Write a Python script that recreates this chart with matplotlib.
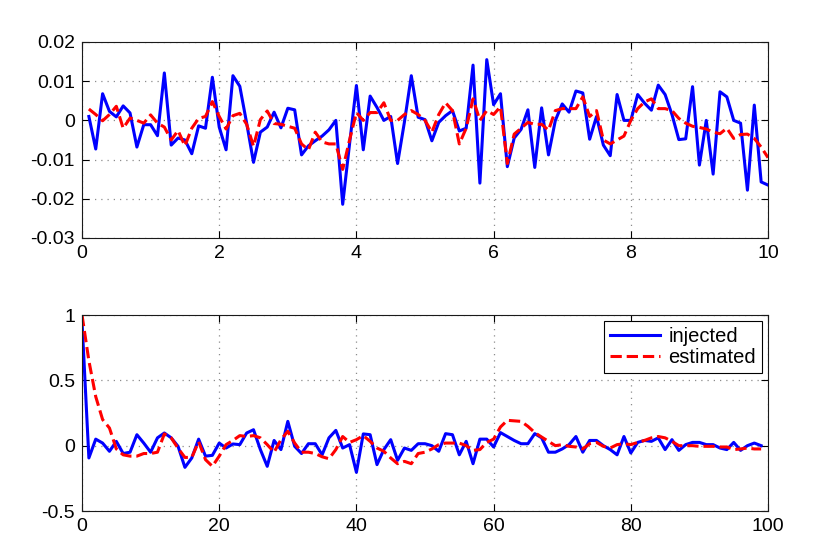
import numpy as np
import matplotlib
matplotlib.use("Agg")
import matplotlib.pyplot as plt

plt.rcParams['font.family'] = ['Liberation Sans', 'DejaVu Sans']

# top panel: time series, 100 samples at 0.1 .. 10
t = np.round(np.arange(1, 101) * 0.1, 1)
sig_injected = [
    0.001, -0.0073, 0.0068, 0.0023, 0.0009, 0.0037, 0.0019, -0.0068, -0.0011, -0.0011,
    -0.0039, 0.0121, -0.0063, -0.0045, -0.005, -0.0085, -0.0014, -0.002, 0.011, -0.0017,
    -0.0075, 0.0114, 0.0087, -0.0007, -0.0107, -0.003, -0.0017, 0.0021, -0.0019, 0.0031,
    0.0027, -0.0088, -0.0065, -0.0052, -0.004, -0.0024, 0.0, -0.0214, -0.006, 0.0089,
    -0.0075, 0.0062, 0.0033, 0.0, 0.001, -0.011, -0.0004, 0.0114, 0.0008, 0.0002,
    -0.0052, -0.0005, 0.0012, 0.0025, -0.0027, -0.002, 0.0141, -0.016, 0.0155, 0.004,
    0.0068, -0.0118, -0.0045, -0.0023, 0.0027, -0.012, 0.0032, -0.0088, 0.0, 0.0042,
    0.0021, 0.0075, 0.007, -0.0048, 0.001, -0.0063, -0.009, 0.0066, 0.0, 0.0,
    0.0066, 0.0044, 0.0026, 0.009, 0.0066, 0.0015, -0.0049, -0.0047, 0.0086, -0.0114,
    0.0, -0.0137, 0.0073, 0.006, 0.0, -0.0007, -0.0178, 0.0039, -0.0157, -0.0165,
]
sig_estimated = [
    0.0029, 0.0015, -0.0001, 0.0015, 0.0036, -0.002, 0.0006, 0.0, -0.0007, 0.0014,
    -0.0007, -0.0017, -0.005, -0.0026, -0.0065, -0.002, 0.0005, 0.001, 0.0048, 0.001,
    -0.0022, 0.0012, 0.0018, -0.001, -0.0066, 0.0002, 0.0024, -0.0008, -0.001, -0.0015,
    -0.002, -0.006, -0.0075, -0.003, -0.0055, -0.006, -0.006, -0.0125, -0.005, 0.002,
    0.0, 0.002, 0.002, 0.0045, 0.0, 0.0, 0.0015, 0.0025, 0.0015, 0.0,
    -0.003, 0.0015, 0.0045, 0.0025, -0.006, -0.002, 0.0055, 0.0, 0.0025, 0.0015,
    0.0035, -0.011, -0.0035, -0.002, -0.0005, -0.001, -0.001, -0.0025, 0.0025, 0.003,
    0.003, 0.003, 0.006, 0.001, 0.0025, -0.005, -0.006, -0.005, -0.004, 0.0,
    0.003, 0.0047, 0.0055, 0.003, 0.003, 0.0025, 0.0005, -0.0007, -0.0015, -0.0018,
    -0.0022, -0.003, -0.0034, -0.002, -0.0046, -0.0036, -0.0035, -0.0046, -0.0068, -0.0095,
]

# bottom panel: correlation vs lag 0 .. 99
lags = np.arange(100)
corr_injected = [
    0.95, -0.094, 0.05, 0.02, -0.043, 0.033, -0.06, -0.05, 0.084, 0.02,
    -0.05, 0.06, 0.097, 0.06, -0.005, -0.166, -0.094, 0.05, -0.08, -0.074,
    0.02, -0.018, 0.013, 0.008, 0.097, 0.122, -0.03, -0.158, 0.04, -0.03,
    0.186, -0.005, -0.06, 0.015, 0.015, -0.07, 0.06, 0.117, -0.018, 0.008,
    -0.204, 0.09, 0.084, -0.145, -0.03, 0.046, -0.112, -0.018, -0.036, 0.015,
    0.015, 0.0, -0.043, 0.092, 0.084, -0.07, 0.033, -0.138, 0.05, 0.05,
    -0.01, 0.1, 0.07, 0.04, 0.015, 0.015, 0.092, 0.06, -0.05, -0.05,
    -0.025, 0.008, 0.07, -0.05, 0.04, 0.04, 0.0, -0.03, -0.07, 0.07,
    -0.056, 0.025, 0.04, 0.033, 0.06, -0.03, 0.046, -0.036, 0.008, 0.025,
    0.025, 0.008, 0.008, -0.018, -0.03, 0.025, -0.036, 0.0, 0.02, 0.0,
]
corr_estimated = [
    1.0, 0.65, 0.375, 0.2, 0.135, -0.025, -0.07, -0.08, -0.08, -0.06,
    -0.06, -0.05, 0.09, 0.06, -0.02, -0.09, -0.09, 0.03, -0.107, -0.158,
    -0.08, 0.008, 0.04, 0.077, 0.07, 0.077, 0.06, 0.008, -0.05, 0.046,
    0.11, 0.02, -0.05, -0.05, -0.06, -0.085, -0.1, -0.03, 0.07, 0.025,
    0.046, 0.077, 0.033, -0.018, -0.043, -0.094, -0.138, -0.12, -0.138, -0.06,
    -0.05, -0.025, 0.008, 0.02, 0.02, 0.02, 0.0, -0.036, -0.03, 0.025,
    0.05, 0.143, 0.194, 0.19, 0.186, 0.148, 0.1, 0.066, 0.033, 0.0,
    0.008, -0.005, -0.01, -0.025, 0.015, 0.025, -0.005, -0.018, 0.008, 0.015,
    0.008, 0.025, 0.04, 0.06, 0.07, 0.06, 0.033, 0.0, 0.0, 0.0,
    -0.005, -0.005, -0.005, -0.01, -0.01, -0.03, -0.025, -0.018, -0.025, -0.025,
]


def style_axes(ax):
    # sparse MATLAB-like dotted grid
    ax.grid(True, linestyle=(0, (1, 4)), color='0.55', linewidth=0.9)
    ax.tick_params(direction='in', top=True, right=True, labelsize=14,
                   length=5, width=0.8, pad=5)
    for sp in ax.spines.values():
        sp.set_color('0.1')
        sp.set_linewidth(0.8)


fig = plt.figure(figsize=(8.31, 5.54), dpi=100)
ax1 = fig.add_axes([0.0987, 0.5704, 0.8255, 0.3538])
ax2 = fig.add_axes([0.0987, 0.0776, 0.8255, 0.3538])

lw = 2.2
ax1.plot(t, sig_injected, color='b', lw=lw)
ax1.plot(t, sig_estimated, color='r', lw=lw, linestyle='--')
ax1.set_xlim(0, 10)
ax1.set_ylim(-0.03, 0.02)
ax1.set_xticks(range(0, 11, 2))
ax1.set_yticks([-0.03, -0.02, -0.01, 0, 0.01, 0.02])
ax1.set_yticklabels(['-0.03', '-0.02', '-0.01', '0', '0.01', '0.02'])
style_axes(ax1)

ax2.plot(lags, corr_injected, color='b', lw=lw, label='injected')
ax2.plot(lags, corr_estimated, color='r', lw=lw, linestyle='--', label='estimated')
ax2.set_xlim(0, 100)
ax2.set_ylim(-0.5, 1)
ax2.set_xticks(range(0, 101, 20))
ax2.set_yticks([-0.5, 0, 0.5, 1])
ax2.set_yticklabels(['-0.5', '0', '0.5', '1'])
style_axes(ax2)
leg = ax2.legend(loc='upper right', fontsize=14.5, fancybox=False, framealpha=1,
                 edgecolor='black', borderaxespad=0.3, handlelength=2.5,
                 handletextpad=0.4, borderpad=0.3, labelspacing=0.1)
leg.get_frame().set_linewidth(0.8)

fig.savefig('out.png', dpi=100)
